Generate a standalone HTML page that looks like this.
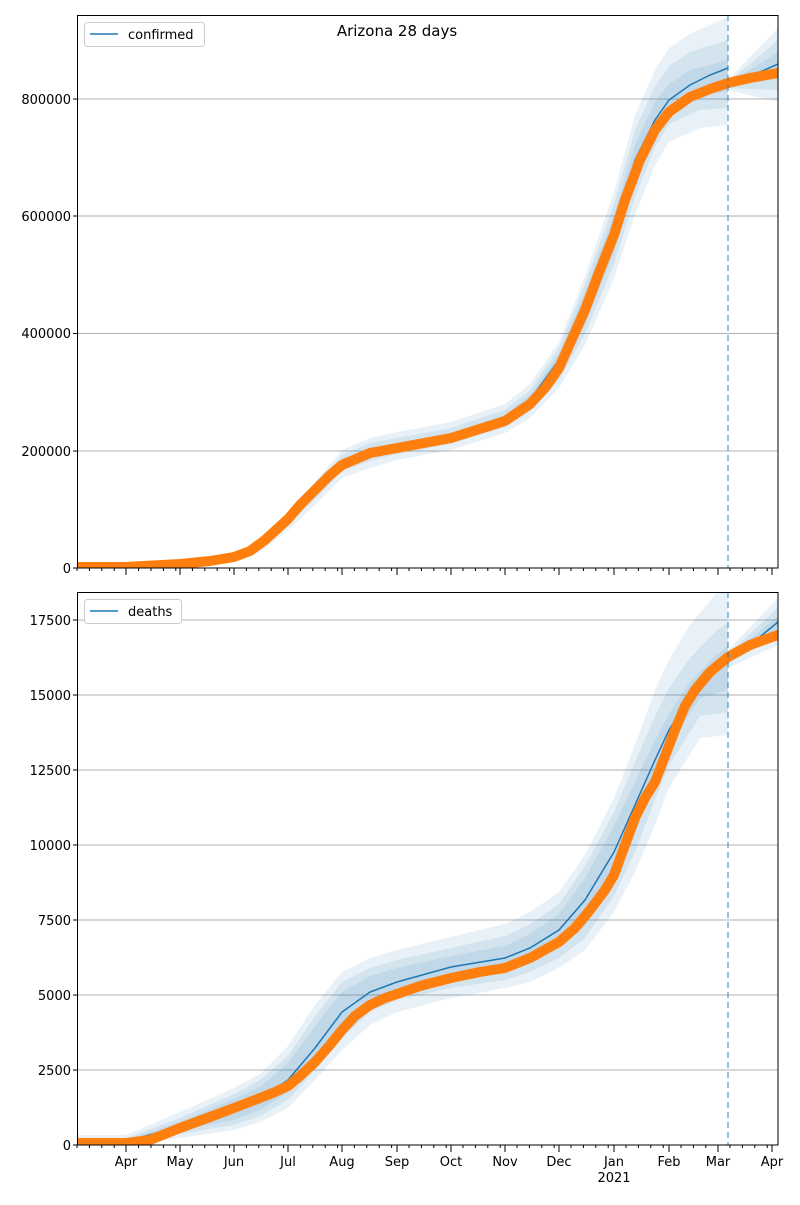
<!DOCTYPE html>
<html><head><meta charset="utf-8"><style>
body{margin:0;background:#fff}
svg text{font-family:"DejaVu Sans","Liberation Sans",sans-serif;font-size:13px;fill:#000}
</style></head><body>
<svg width="800" height="1200" viewBox="0 0 800 1200" xmlns="http://www.w3.org/2000/svg">
<defs>
<clipPath id="c1"><rect x="77" y="15" width="701" height="553"/></clipPath>
<clipPath id="c2"><rect x="77" y="592" width="701" height="553"/></clipPath>
</defs>
<!-- TOP -->
<g stroke="#b0b0b0" stroke-width="1">
<line x1="77" x2="778" y1="99" y2="99"/><line x1="77" x2="778" y1="216" y2="216"/>
<line x1="77" x2="778" y1="333.5" y2="333.5"/><line x1="77" x2="778" y1="451" y2="451"/>
</g>
<g clip-path="url(#c1)" fill="#1f77b4" fill-opacity="0.1">
<path d="M77,566 L234,556 L260,542 L288,514 L315,482 L342,450 L370,438 L397,432 L451,422 L505,404 L530,384 L559,342 L585,276 L614,192 L635,115 L655,70 L669,48 L690,34 L728,17 L728,125 L700,128 L669,142 L655,165 L635,215 L614,278 L585,345 L559,388 L530,418 L505,433 L451,450 L397,460 L370,468 L342,478 L315,505 L288,530 L260,552 L234,562 L77,568Z"/>
<path d="M77,567 L234,557 L260,544 L288,517 L315,486 L342,455 L370,443 L397,438 L451,428 L505,410 L530,390 L559,348 L585,284 L614,204 L635,130 L655,86 L669,66 L690,52 L728,40 L728,108 L700,110 L669,124 L655,147 L635,197 L614,264 L585,334 L559,380 L530,412 L505,427 L451,444 L397,454 L370,461 L342,471 L315,499 L288,525 L260,550 L234,561 L77,568Z"/>
<path d="M77,567.5 L234,558 L260,546 L288,519 L315,489 L342,459 L370,448 L397,443 L451,433 L505,415 L530,395 L559,354 L585,292 L614,215 L635,145 L655,102 L669,84 L690,70 L728,60 L728,92 L700,94 L669,108 L655,130 L635,180 L614,252 L585,324 L559,372 L530,406 L505,422 L451,439 L397,449 L370,455 L342,465 L315,494 L288,522 L260,548 L234,560 L77,568Z"/>
<path d="M728,80 L778,28 L778,102 L728,90Z"/>
<path d="M728,82 L778,40 L778,90 L728,88Z"/>
<path d="M728,84 L778,52 L778,78 L728,87Z"/>
</g>
<g clip-path="url(#c1)">
<polyline points="77,567.5 180,565 234,558 260,546 288,520 315,490 342,463 370,452 397,447 451,436 505,419 530,400 559,360 585,300 614,228 635,160 655,120 669,100 690,85 710,75 728,68" fill="none" stroke="#1f77b4" stroke-width="1.5"/>
<polyline points="728,86 778,64" fill="none" stroke="#1f77b4" stroke-width="1.5"/>
<polyline points="77,567 126,567 180,564 210,561 234,557 250,551 265,540 288,519 300,505 315,490 330,475 342,465 370,453 397,448 451,438 505,421 530,404 545,388 559,368 585,310 600,270 614,235 625,200 640,160 655,130 669,112 690,97 710,89 728,83 750,78 778,73" fill="none" stroke="#ff7f0e" stroke-width="10" stroke-linecap="round" stroke-linejoin="round"/>
</g>
<line x1="728" x2="728" y1="15" y2="568" stroke="#1f77b4" stroke-opacity="0.6" stroke-width="1.5" stroke-dasharray="6,4"/>
<rect x="77.5" y="15.5" width="700.5" height="552.5" fill="none" stroke="#000" stroke-width="1"/>
<g text-anchor="end">
<text x="71" y="573">0</text><text x="71" y="456">200000</text><text x="71" y="338">400000</text><text x="71" y="221">600000</text><text x="71" y="104">800000</text>
</g>
<g stroke="#000"><line x1="73" x2="77" y1="568" y2="568"/><line x1="73" x2="77" y1="451" y2="451"/><line x1="73" x2="77" y1="333.5" y2="333.5"/><line x1="73" x2="77" y1="216" y2="216"/><line x1="73" x2="77" y1="99" y2="99"/></g>
<text x="397" y="36" text-anchor="middle" style="font-size:15px">Arizona 28 days</text>
<rect x="84.5" y="22.5" width="120" height="24" rx="3" fill="#fff" stroke="#ccc"/>
<line x1="90" x2="118" y1="34" y2="34" stroke="#1f77b4" stroke-width="1.5"/>
<text x="128" y="39">confirmed</text>
<!-- BOTTOM -->
<g stroke="#b0b0b0" stroke-width="1">
<line x1="77" x2="778" y1="620" y2="620"/><line x1="77" x2="778" y1="695" y2="695"/><line x1="77" x2="778" y1="770" y2="770"/>
<line x1="77" x2="778" y1="845" y2="845"/><line x1="77" x2="778" y1="920" y2="920"/><line x1="77" x2="778" y1="995" y2="995"/><line x1="77" x2="778" y1="1070" y2="1070"/>
</g>
<g clip-path="url(#c2)" fill="#1f77b4" fill-opacity="0.1">
<path d="M77,1135 L126,1135 L180,1112 L234,1088 L260,1074 L288,1046 L315,1005 L342,972 L370,958 L397,950 L451,937 L505,924 L530,912 L559,892 L585,855 L614,798 L635,745 L655,690 L669,660 L690,625 L715,595 L728,590 L728,735 L700,738 L669,788 L655,825 L635,872 L614,912 L585,950 L559,968 L530,982 L505,988 L451,998 L397,1012 L370,1025 L342,1050 L315,1080 L288,1108 L260,1122 L234,1130 L180,1138 L126,1145 L77,1145Z"/>
<path d="M77,1138 L126,1138 L180,1118 L234,1094 L260,1080 L288,1056 L315,1016 L342,982 L370,968 L397,960 L451,948 L505,936 L530,924 L559,904 L585,866 L614,812 L635,762 L655,716 L669,688 L690,658 L715,632 L728,622 L728,712 L700,716 L669,765 L655,800 L635,852 L614,896 L585,938 L559,958 L530,972 L505,980 L451,988 L397,1000 L370,1012 L342,1038 L315,1070 L288,1100 L260,1116 L234,1125 L180,1134 L126,1143 L77,1143Z"/>
<path d="M77,1140 L126,1140 L180,1122 L234,1099 L260,1087 L288,1063 L315,1026 L342,992 L370,976 L397,968 L451,956 L505,946 L530,934 L559,914 L585,878 L614,826 L635,782 L655,740 L669,714 L690,682 L715,656 L728,646 L728,690 L700,698 L669,744 L655,778 L635,832 L614,880 L585,926 L559,946 L530,962 L505,970 L451,978 L397,990 L370,1002 L342,1026 L315,1060 L288,1092 L260,1110 L234,1120 L180,1130 L126,1141 L77,1141Z"/>
<path d="M728,650 L778,598 L778,645 L728,668Z"/>
<path d="M728,654 L778,608 L778,635 L728,664Z"/>
<path d="M728,657 L778,616 L778,628 L728,661Z"/>
</g>
<g clip-path="url(#c2)">
<polyline points="77,1143 126,1141 180,1127 234,1110 260,1099 288,1080 315,1048 342,1012 370,992 397,982 451,967 505,958 530,948 559,930 585,900 614,852 635,805 655,760 669,730 690,697 710,675 728,660" fill="none" stroke="#1f77b4" stroke-width="1.5"/>
<polyline points="728,660 750,645 778,622" fill="none" stroke="#1f77b4" stroke-width="1.5"/>
<polyline points="77,1143 126,1143 150,1140 180,1128 210,1117 234,1108 260,1098 275,1092 288,1086 300,1076 315,1062 330,1045 342,1030 355,1016 370,1005 385,998 397,994 420,986 451,978 480,972 505,968 530,958 559,942 575,928 590,910 605,890 614,875 625,845 635,818 645,798 655,782 665,756 675,730 685,706 695,690 710,672 728,657 750,645 778,635" fill="none" stroke="#ff7f0e" stroke-width="10" stroke-linecap="round" stroke-linejoin="round"/>
</g>
<line x1="728" x2="728" y1="592" y2="1145" stroke="#1f77b4" stroke-opacity="0.6" stroke-width="1.5" stroke-dasharray="6,4"/>
<rect x="77.5" y="592.5" width="700.5" height="552.5" fill="none" stroke="#000" stroke-width="1"/>
<g text-anchor="end">
<text x="71" y="1150">0</text><text x="71" y="1075">2500</text><text x="71" y="1000">5000</text><text x="71" y="925">7500</text>
<text x="71" y="850">10000</text><text x="71" y="775">12500</text><text x="71" y="700">15000</text><text x="71" y="625">17500</text>
</g>
<g stroke="#000"><line x1="73" x2="77" y1="1145" y2="1145"/><line x1="73" x2="77" y1="1070" y2="1070"/><line x1="73" x2="77" y1="995" y2="995"/><line x1="73" x2="77" y1="920" y2="920"/><line x1="73" x2="77" y1="845" y2="845"/><line x1="73" x2="77" y1="770" y2="770"/><line x1="73" x2="77" y1="695" y2="695"/><line x1="73" x2="77" y1="620" y2="620"/></g>
<rect x="84.5" y="599.5" width="97" height="24" rx="3" fill="#fff" stroke="#ccc"/>
<line x1="90" x2="118" y1="611" y2="611" stroke="#1f77b4" stroke-width="1.5"/>
<text x="128" y="616">deaths</text>
<!-- X ticks -->
<g stroke="#000" stroke-width="1">
<line x1="126" x2="126" y1="568" y2="575"/><line x1="180" x2="180" y1="568" y2="575"/><line x1="234" x2="234" y1="568" y2="575"/><line x1="288" x2="288" y1="568" y2="575"/><line x1="342" x2="342" y1="568" y2="575"/><line x1="397" x2="397" y1="568" y2="575"/><line x1="451" x2="451" y1="568" y2="575"/><line x1="505" x2="505" y1="568" y2="575"/><line x1="559" x2="559" y1="568" y2="575"/><line x1="614" x2="614" y1="568" y2="575"/><line x1="669" x2="669" y1="568" y2="575"/><line x1="718" x2="718" y1="568" y2="575"/><line x1="772" x2="772" y1="568" y2="575"/>
<line x1="126" x2="126" y1="1145" y2="1152"/><line x1="180" x2="180" y1="1145" y2="1152"/><line x1="234" x2="234" y1="1145" y2="1152"/><line x1="288" x2="288" y1="1145" y2="1152"/><line x1="342" x2="342" y1="1145" y2="1152"/><line x1="397" x2="397" y1="1145" y2="1152"/><line x1="451" x2="451" y1="1145" y2="1152"/><line x1="505" x2="505" y1="1145" y2="1152"/><line x1="559" x2="559" y1="1145" y2="1152"/><line x1="614" x2="614" y1="1145" y2="1152"/><line x1="669" x2="669" y1="1145" y2="1152"/><line x1="718" x2="718" y1="1145" y2="1152"/><line x1="772" x2="772" y1="1145" y2="1152"/>
</g>
<path stroke="#000" stroke-width="1" d="M77,568v3M89.4,568v3M101.8,568v3M114.2,568v3M138.6,568v3M151,568v3M163.4,568v3M175.8,568v3M192.4,568v3M204.8,568v3M217.2,568v3M229.6,568v3M246.4,568v3M258.8,568v3M271.2,568v3M283.6,568v3M300.4,568v3M312.8,568v3M325.2,568v3M337.6,568v3M354.4,568v3M366.8,568v3M379.2,568v3M391.6,568v3M409,568v3M421.4,568v3M433.8,568v3M446.2,568v3M463,568v3M475.4,568v3M487.8,568v3M500.2,568v3M517,568v3M529.4,568v3M541.8,568v3M554.2,568v3M571,568v3M583.4,568v3M595.8,568v3M608.2,568v3M626,568v3M638.4,568v3M650.8,568v3M663.2,568v3M681,568v3M693.4,568v3M705.8,568v3M730,568v3M742.4,568v3M754.8,568v3M767.2,568v3
M77,1145v3M89.4,1145v3M101.8,1145v3M114.2,1145v3M138.6,1145v3M151,1145v3M163.4,1145v3M175.8,1145v3M192.4,1145v3M204.8,1145v3M217.2,1145v3M229.6,1145v3M246.4,1145v3M258.8,1145v3M271.2,1145v3M283.6,1145v3M300.4,1145v3M312.8,1145v3M325.2,1145v3M337.6,1145v3M354.4,1145v3M366.8,1145v3M379.2,1145v3M391.6,1145v3M409,1145v3M421.4,1145v3M433.8,1145v3M446.2,1145v3M463,1145v3M475.4,1145v3M487.8,1145v3M500.2,1145v3M517,1145v3M529.4,1145v3M541.8,1145v3M554.2,1145v3M571,1145v3M583.4,1145v3M595.8,1145v3M608.2,1145v3M626,1145v3M638.4,1145v3M650.8,1145v3M663.2,1145v3M681,1145v3M693.4,1145v3M705.8,1145v3M730,1145v3M742.4,1145v3M754.8,1145v3M767.2,1145v3"/>
<g text-anchor="middle">
<text x="126" y="1166">Apr</text><text x="180" y="1166">May</text><text x="234" y="1166">Jun</text><text x="288" y="1166">Jul</text><text x="342" y="1166">Aug</text><text x="397" y="1166">Sep</text><text x="451" y="1166">Oct</text><text x="505" y="1166">Nov</text><text x="559" y="1166">Dec</text><text x="614" y="1166">Jan</text><text x="669" y="1166">Feb</text><text x="718" y="1166">Mar</text><text x="772" y="1166">Apr</text>
<text x="614" y="1182">2021</text>
</g>
</svg>
</body></html>
